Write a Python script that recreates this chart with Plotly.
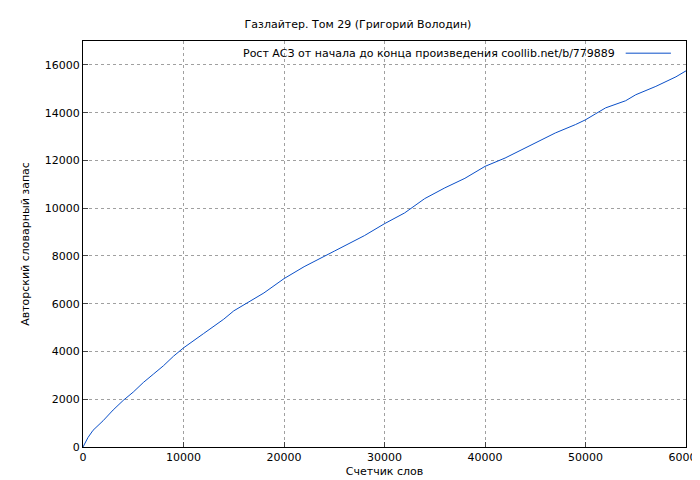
import plotly.graph_objects as go

words = [0, 500, 1000, 2000, 3000, 4000, 5000, 6000, 7000, 8000, 9000, 10000, 12000, 14000, 15000, 16000, 18000, 20000, 22000, 25000, 28000, 30000, 32000, 34000, 36000, 38000, 40000, 42000, 45000, 47000, 49000, 50000, 51000, 52000, 54000, 55000, 57000, 59000, 60000]
vocab = [0, 400, 700, 1100, 1550, 1950, 2300, 2700, 3050, 3400, 3800, 4150, 4750, 5350, 5700, 5950, 6450, 7050, 7550, 8200, 8850, 9350, 9800, 10400, 10850, 11250, 11750, 12100, 12750, 13150, 13500, 13700, 13950, 14200, 14500, 14750, 15100, 15500, 15750]

font = dict(family="DejaVu Sans", size=11, color="#000")
fig = go.Figure(go.Scatter(x=words, y=vocab, mode="lines", line=dict(color="#0a4fc8", width=1), showlegend=False))
ax = dict(showline=True, linecolor="#000", mirror=True, ticks="inside", ticklen=5, tickformat="d",
          gridcolor="#a0a0a0", griddash="dot", zeroline=False, tickfont=font, automargin=False)
fig.update_layout(
    width=700, height=480, paper_bgcolor="white", plot_bgcolor="white",
    margin=dict(l=75, r=22, t=33, b=41), font=font,
    title=dict(text="Газлайтер. Том 29 (Григорий Володин)", x=0.5, y=0.975, xanchor="center", font=font),
    xaxis=dict(range=[0, 60000], dtick=10000, title=dict(text="Счетчик слов", font=font, standoff=4), **ax),
    yaxis=dict(range=[0, 17000], dtick=2000, title=dict(text="Авторский словарный запас", font=font, standoff=12), **ax),
    annotations=[dict(text="Рост АСЗ от начала до конца произведения coollib.net/b/779889", xref="paper", yref="paper",
                      x=0.885, y=0.99, xanchor="right", yanchor="top", showarrow=False, font=font)],
    shapes=[dict(type="line", xref="paper", yref="paper", x0=0.9, x1=0.975, y0=0.97, y1=0.97,
                 line=dict(color="#0a4fc8", width=1))],
)
fig.write_html("out.html")
